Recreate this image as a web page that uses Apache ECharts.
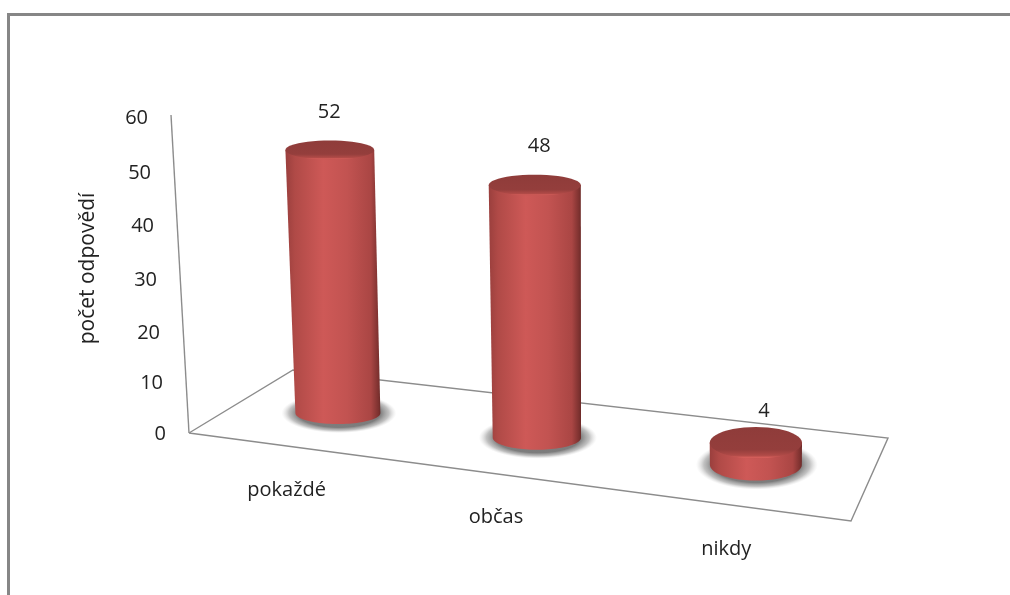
<!DOCTYPE html>
<html>
<head>
<meta charset="utf-8">
<style>html,body{margin:0;padding:0;background:#fff}#c{width:1010px;height:595px}</style>
<script src="https://cdn.jsdelivr.net/npm/echarts@6/dist/echarts.min.js"></script>
</head>
<body>
<div id="c"></div>
<script>
const categories = ['pokaždé', 'občas', 'nikdy'];
const values = [52, 48, 4];
const yTicks = [0, 10, 20, 30, 40, 50, 60];
const axisTitle = 'počet odpovědí';

const FONT = '"Open Sans", sans-serif';
const GRID = { left: 189, top: 115, width: 700, height: 318 };
// floor quadrilateral: front-left, front-right, back-right, back-left
const Q = [[189, 433], [851, 521], [888, 438], [293, 370]];
const DEPTH = 0.47;
const BAR_SHIFT = 4.2;

const H = (function () {
  const [p0, p1, p2, p3] = Q;
  const dx1 = p1[0] - p2[0], dx2 = p3[0] - p2[0], sx = p0[0] - p1[0] + p2[0] - p3[0];
  const dy1 = p1[1] - p2[1], dy2 = p3[1] - p2[1], sy = p0[1] - p1[1] + p2[1] - p3[1];
  const den = dx1 * dy2 - dx2 * dy1;
  const g = (sx * dy2 - dx2 * sy) / den, h = (dx1 * sy - sx * dy1) / den;
  return {
    a: p1[0] - p0[0] + g * p1[0], b: p3[0] - p0[0] + h * p3[0], c: p0[0],
    d: p1[1] - p0[1] + g * p1[1], e: p3[1] - p0[1] + h * p3[1], f: p0[1], g, h
  };
})();
function floorPoint(u, v) {
  const w = 1 + H.g * u + H.h * v;
  return [(H.a * u + H.b * v + H.c) / w, (H.d * u + H.e * v + H.f) / w];
}
// vertical lines converge downward: lean per pixel of height at screen x
function lean(x) {
  const t = Math.min(1, Math.max(0, (x - 189) / 566));
  return -0.0566 * (1 - t) * (1 - t);
}
function arc(cx, cy, rx, ry, a0, a1) {
  const pts = [];
  for (let i = 0; i <= 48; i++) {
    const a = a0 + (a1 - a0) * i / 48;
    pts.push([cx + rx * Math.cos(a), cy + ry * Math.sin(a)]);
  }
  return pts;
}
const labelNudge = [[-0.5, -28], [4.5, -28.5], [8, -15.5]];

function renderFloor(params, api) {
  const zero = api.coord([0, 0]), top = api.coord([0, 60]);
  const hgt = zero[1] - top[1];
  const stroke = { stroke: '#8c8c8c', lineWidth: 1.4, fill: null };
  return {
    type: 'group',
    children: [
      { type: 'polyline', shape: { points: Q.concat([Q[0]]) }, style: stroke },
      { type: 'line', shape: { x1: Q[0][0], y1: Q[0][1], x2: Q[0][0] + lean(Q[0][0]) * hgt, y2: top[1] }, style: stroke }
    ]
  };
}

function renderBar(params, api) {
  const idx = api.value(0), val = api.value(1);
  const c0 = api.coord([idx, 0]), c1 = api.coord([idx, val]);
  const u = (c0[0] - GRID.left) / GRID.width;
  const fp = floorPoint(u, DEPTH);
  const base = [fp[0] + BAR_SHIFT, fp[1]];
  const t = (base[0] - 340) / (759 - 340);
  const k = 0.955 + 0.08 * t;
  const h = (c0[1] - c1[1]) * k;
  const topC = [base[0] + lean(base[0]) * h, base[1] - h];
  const ryB = 11 + 5 * t * t, rxB = 42.5 + 3.5 * t;
  const ryT = ryB * (1 - 0.14 * h / 263), rxT = rxB * (1 + 0.045 * h / 263);

  const sideGrad = {
    type: 'linear', x: 0, y: 0, x2: 1, y2: 0,
    colorStops: [
      { offset: 0, color: '#9a3f3d' }, { offset: 0.1, color: '#b04a47' },
      { offset: 0.4, color: '#ce5957' }, { offset: 0.65, color: '#c25351' },
      { offset: 0.9, color: '#aa4644' }, { offset: 0.98, color: '#7c312f' }, { offset: 1, color: '#6b2a28' }
    ]
  };
  const topGrad = {
    type: 'linear', x: 0, y: 0, x2: 0, y2: 1,
    colorStops: [
      { offset: 0, color: '#8f3c3a' }, { offset: 0.72, color: '#943e3c' },
      { offset: 0.9, color: '#b04a47' }, { offset: 0.97, color: '#d45e5a' }, { offset: 1, color: '#c65552' }
    ]
  };
  const shadowGrad = {
    type: 'radial', x: 0.5, y: 0.5, r: 0.5,
    colorStops: [
      { offset: 0, color: 'rgba(120,120,120,1)' }, { offset: 0.72, color: 'rgba(125,125,125,1)' },
      { offset: 0.87, color: 'rgba(160,160,160,0.65)' }, { offset: 1, color: 'rgba(210,210,210,0)' }
    ]
  };
  const bottomFront = arc(base[0], base[1], rxB, ryB, Math.PI, 0);
  const sidePts = [[topC[0] - rxT, topC[1]]].concat(bottomFront, [[topC[0] + rxT, topC[1]]]);
  const nudge = labelNudge[idx];
  const shR = rxB + 15;
  return {
    type: 'group',
    children: [
      {
        type: 'circle', x: base[0] + 1, y: base[1], scaleY: (ryB + 9) / shR,
        shape: { cx: 0, cy: 0, r: shR }, style: { fill: shadowGrad }
      },
      { type: 'polygon', shape: { points: sidePts }, style: { fill: sideGrad } },
      { type: 'polygon', shape: { points: arc(topC[0], topC[1], rxT, ryT, 0, Math.PI * 2) }, style: { fill: topGrad } },
      {
        type: 'text', x: topC[0] + nudge[0], y: topC[1] - ryT + nudge[1],
        style: { text: String(val), fill: '#222', font: '20px ' + FONT, align: 'center', verticalAlign: 'middle' }
      }
    ]
  };
}

// nudges for the tilted value axis labels (right padding, vertical shift)
function yRich() {
  const shifts = { 0: 1.7, 10: 3.2, 20: 6.2, 30: 6, 40: 5, 50: 5.4, 60: 3.4 };
  const rich = {};
  yTicks.forEach(function (v) {
    const right = 23 + (18 * v / 60);
    rich['t' + v] = {
      fontFamily: FONT, fontSize: 20, color: '#222',
      padding: [shifts[v] * 2, right, 0, 0]
    };
  });
  return rich;
}
const xShift = [[19, 47.5], [43, 74], [46, 106]];
function xRich() {
  const rich = {};
  categories.forEach(function (c, i) {
    rich['c' + i] = {
      fontFamily: FONT, fontSize: 20, color: '#222',
      padding: [xShift[i][1], xShift[i][0] * 2, 0, 0]
    };
  });
  return rich;
}

const chart = echarts.init(document.getElementById('c'), null, { renderer: 'canvas' });
chart.setOption({
  animation: false,
  backgroundColor: '#ffffff',
  grid: { left: GRID.left, top: GRID.top, width: GRID.width, height: GRID.height },
  xAxis: {
    type: 'category', data: categories,
    axisLine: { show: false }, axisTick: { show: false },
    axisLabel: { margin: 0, interval: 0, formatter: function (v) { return '{c' + categories.indexOf(v) + '|' + v + '}'; }, rich: xRich() }
  },
  yAxis: {
    type: 'value', min: 0, max: 60, interval: 10,
    axisLine: { show: false }, axisTick: { show: false }, splitLine: { show: false },
    axisLabel: { margin: 0, formatter: function (v) { return '{t' + v + '|' + v + '}'; }, rich: yRich() },
    name: axisTitle, nameLocation: 'middle', nameRotate: 90, nameGap: 90,
    nameTextStyle: { fontFamily: FONT, fontSize: 21, color: '#222', padding: [0, 0, 0, 11] }
  },
  graphic: [
    { type: 'polyline', silent: true, z: 0, shape: { points: [[8.5, 595], [8.5, 14.5], [1010, 14.5]] }, style: { stroke: '#868686', lineWidth: 3, fill: null } }
  ],
  series: [
    { type: 'custom', name: 'floor', coordinateSystem: 'cartesian2d', clip: false, z: 1, silent: true, renderItem: renderFloor, data: [[0, 0]] },
    {
      type: 'custom', name: 'počet odpovědí', coordinateSystem: 'cartesian2d', clip: false, z: 2, silent: true,
      renderItem: renderBar, encode: { x: 0, y: 1 },
      data: values.map(function (v, i) { return [i, v]; })
    }
  ]
});
</script>
</body>
</html>
